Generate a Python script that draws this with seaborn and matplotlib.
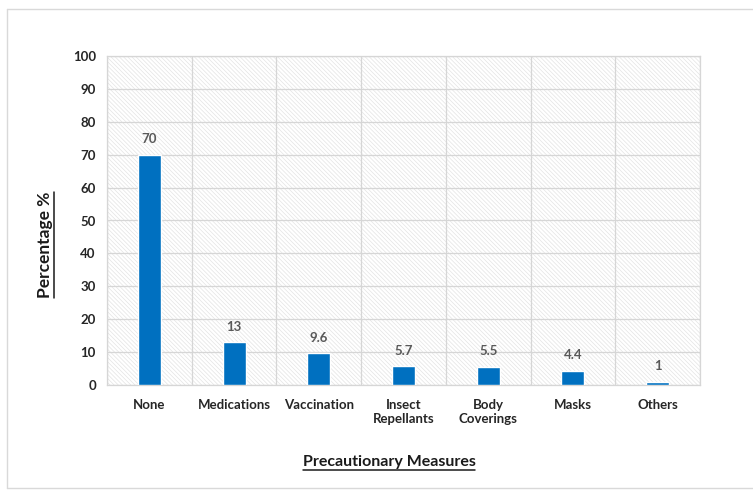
import matplotlib
matplotlib.use("Agg")
import matplotlib.pyplot as plt
from matplotlib.patches import Rectangle
from matplotlib.lines import Line2D
import seaborn as sns
import pandas as pd
import numpy as np

categories = ["None", "Medications", "Vaccination", "Insect\nRepellants",
              "Body\nCoverings", "Masks", "Others"]
percentages = [70, 13, 9.6, 5.7, 5.5, 4.4, 1]
value_labels = ["70", "13", "9.6", "5.7", "5.5", "4.4", "1"]
y_ticks = [0, 10, 20, 30, 40, 50, 60, 70, 80, 90, 100]

sns.set_theme(style="white")
plt.rcParams["font.family"] = ["Lato", "DejaVu Sans"]
plt.rcParams["hatch.linewidth"] = 0.5

df = pd.DataFrame({"measure": categories, "pct": percentages})

fig = plt.figure(figsize=(7.53, 4.90), dpi=100)
ax = fig.add_axes([107 / 753, 1 - 385 / 490, (700 - 107) / 753, (385 - 56) / 490])

# hatched plot-area background
ax.add_patch(Rectangle((0, 0), 1, 1, transform=ax.transAxes, facecolor="white",
                       edgecolor="#e4e4e4", hatch="\\" * 8, linewidth=0, zorder=0))

sns.barplot(data=df, x="measure", y="pct", color="#0070C0", width=0.27,
            saturation=1, ax=ax, zorder=3)

ax.set_ylim(0, 100)
ax.set_xlim(-0.5, len(categories) - 0.5)
ax.set_yticks(y_ticks)
ax.set_yticklabels([str(t) for t in y_ticks])
ax.set_xticks(np.arange(-0.5, len(categories), 1.0), minor=True)
ax.grid(axis="y", which="major", color="#d6d6d6", linewidth=0.9, zorder=1)
ax.grid(axis="x", which="minor", color="#d6d6d6", linewidth=0.9, zorder=1)
ax.grid(axis="x", which="major", visible=False)
ax.set_axisbelow(True)
ax.tick_params(axis="both", which="both", length=0)
ax.tick_params(axis="x", pad=10)
ax.tick_params(axis="y", pad=8)
for lab in ax.get_xticklabels() + ax.get_yticklabels():
    lab.set_fontsize(9.5)
    lab.set_fontweight("bold")
    lab.set_color("#262626")
for sp in ax.spines.values():
    sp.set_color("#d6d6d6")
    sp.set_linewidth(0.9)

for patch, txt in zip(ax.patches[1:], value_labels):
    ax.annotate(txt, (patch.get_x() + patch.get_width() / 2, patch.get_height()),
                xytext=(0, 7), textcoords="offset points", ha="center", va="bottom",
                fontsize=9.5, fontweight="bold", color="#595959")

ax.set_xlabel("")
ax.set_ylabel("")
xl = fig.text(389 / 753, 1 - 462 / 490, "Precautionary Measures", ha="center",
              va="center", fontsize=11.5, fontweight="bold", color="#1a1a1a")
yl = fig.text(45 / 753, 1 - 245 / 490, "Percentage %", ha="center", va="center",
              rotation=90, fontsize=12.5, fontweight="bold", color="#1a1a1a")

# underline both axis titles
fig.canvas.draw()
r = fig.canvas.get_renderer()
W, H = fig.bbox.width, fig.bbox.height
bb = xl.get_window_extent(r)
yb = bb.y0 - 1
fig.add_artist(Line2D([bb.x0 / W, bb.x1 / W], [yb / H, yb / H], color="#1a1a1a", lw=1.1))
bb = yl.get_window_extent(r)
xr = bb.x1 + 1
fig.add_artist(Line2D([xr / W, xr / W], [bb.y0 / H, bb.y1 / H], color="#1a1a1a", lw=1.1))

# outer chart frame
frame_col = "#d9d9d9"
fig.add_artist(Line2D([7 / 753, 1], [1 - 9 / 490, 1 - 9 / 490], color=frame_col, lw=1))
fig.add_artist(Line2D([7 / 753, 7 / 753], [1 - 9 / 490, 1 - 488 / 490], color=frame_col, lw=1))
fig.add_artist(Line2D([7 / 753, 1], [1 - 488 / 490, 1 - 488 / 490], color=frame_col, lw=1))

fig.savefig("out.png", dpi=100, facecolor="white")
